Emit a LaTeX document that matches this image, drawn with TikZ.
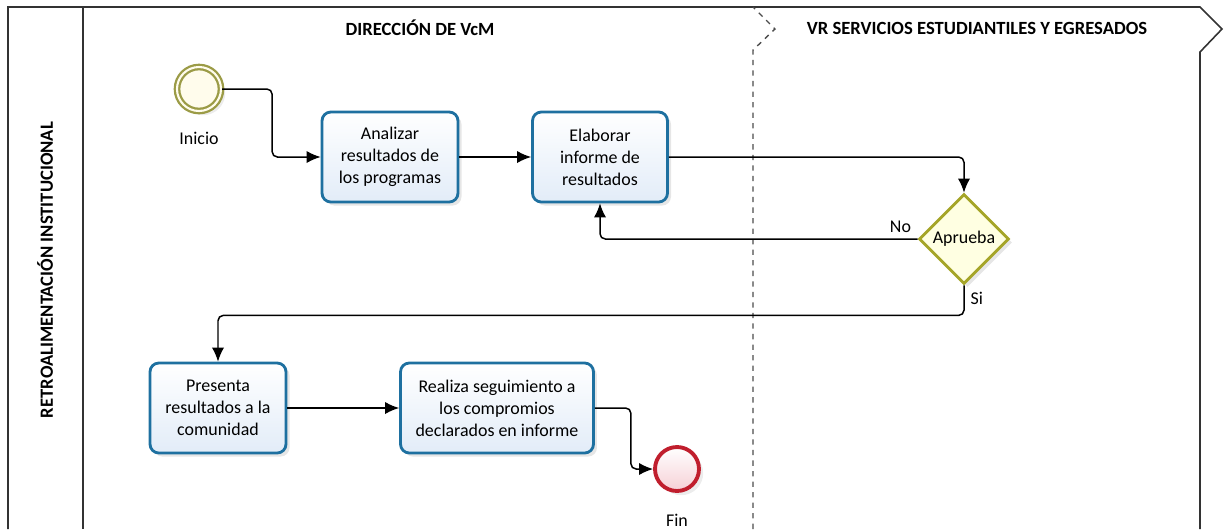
\documentclass[tikz,border=0pt]{standalone}
\usepackage{fontspec}
\setmainfont{Carlito}
\usetikzlibrary{shapes.geometric,arrows.meta,shadows}

\definecolor{taskline}{RGB}{30,112,160}
\definecolor{taskfill}{RGB}{226,236,248}
\definecolor{gateline}{RGB}{165,165,40}
\definecolor{gatefill}{RGB}{255,255,226}
\definecolor{startline}{RGB}{155,155,70}
\definecolor{startfill}{RGB}{255,252,236}
\definecolor{endline}{RGB}{192,30,45}
\definecolor{endfill}{RGB}{246,208,214}

\begin{document}
\begin{tikzpicture}[x=0.02cm,y=-0.02cm,>={Latex[length=8pt,width=7pt]},
	task/.style={draw=taskline,line width=1.6pt,rounded corners=5pt,top color=white,bottom color=taskfill,
		drop shadow={shadow xshift=2pt,shadow yshift=-2pt,opacity=0.2},
		align=center,minimum height=1.8cm,font=\fontsize{10.2}{12.5}\selectfont},
	gate/.style={diamond,shape aspect=1,draw=gateline,line width=1.6pt,fill=gatefill,
		minimum size=1.8cm,inner sep=0pt,drop shadow={shadow xshift=2pt,shadow yshift=-2pt,opacity=0.2}},
	flow/.style={->,line width=0.85pt,rounded corners=3pt},
	lbl/.style={font=\fontsize{10.2}{12.5}\selectfont},
	title/.style={font=\fontsize{10.6}{12}\selectfont\bfseries}]
	% fix the size of the picture
	\useasboundingbox (0,0) rectangle (1225,529);

	% draw the pool and the lanes
	\draw[line width=0.9pt,gray!40!black] (1200,529) -- (1200,52) -- (1222,29) -- (1200,7) -- (8,7) -- (8,529);
	\draw[line width=0.9pt,gray!40!black] (83,7) -- (83,529);
	\draw[line width=0.8pt,gray!60!black,dashed] (753,529) -- (753,50) -- (775,29) -- (753,7);
	\node[title,rotate=90] (pool) at (45,270) {RETROALIMENTACIÓN INSTITUCIONAL};
	\node[title] (vcm) at (420,28) {DIRECCIÓN DE VcM};
	\node[title] (vr) at (977,28) {VR SERVICIOS ESTUDIANTILES Y EGRESADOS};

	% draw the events
	\node[circle,draw=startline,line width=1.3pt,double=startfill,double distance=1.2pt,fill=startfill,
		minimum size=0.88cm,drop shadow={opacity=0.15}] (inicio) at (199,89) {};
	\node[lbl] (inicio label) at (199,138) {Inicio};
	\node[circle,draw=endline,line width=2.2pt,top color=white,bottom color=endfill,
		minimum size=0.88cm,drop shadow={opacity=0.15}] (fin) at (677,469) {};
	\node[lbl] (fin label) at (677,520) {Fin};

	% draw the tasks
	\node[task,minimum width=2.72cm] (analizar) at (390,157) {Analizar\\resultados de\\los programas};
	\node[task,minimum width=2.70cm] (elaborar) at (600,157) {Elaborar\\informe de\\resultados};
	\node[task,minimum width=2.72cm] (presenta) at (218,408) {Presenta\\resultados a la\\comunidad};
	\node[task,minimum width=3.86cm] (realiza) at (497,408) {Realiza seguimiento a\\los compromios\\declarados en informe};

	% draw the gateway
	\node[gate,lbl] (aprueba) at (964,239) {Aprueba};

	% draw the flows
	\draw[flow] (inicio.east) -- ++(50,0) |- (analizar.west);
	\draw[flow] (analizar) -- (elaborar);
	\draw[flow] (elaborar.east) -| (aprueba.north);
	\draw[flow] (aprueba.west) node[lbl,above left] {No} -| (elaborar.south);
	\draw[flow] (aprueba.south) node[lbl,below right] {Si} -- ++(0,30) -| (presenta.north);
	\draw[flow] (presenta) -- (realiza);
	\draw[flow] (realiza.east) -- ++(36,0) |- (fin.west);
\end{tikzpicture}
\end{document}
